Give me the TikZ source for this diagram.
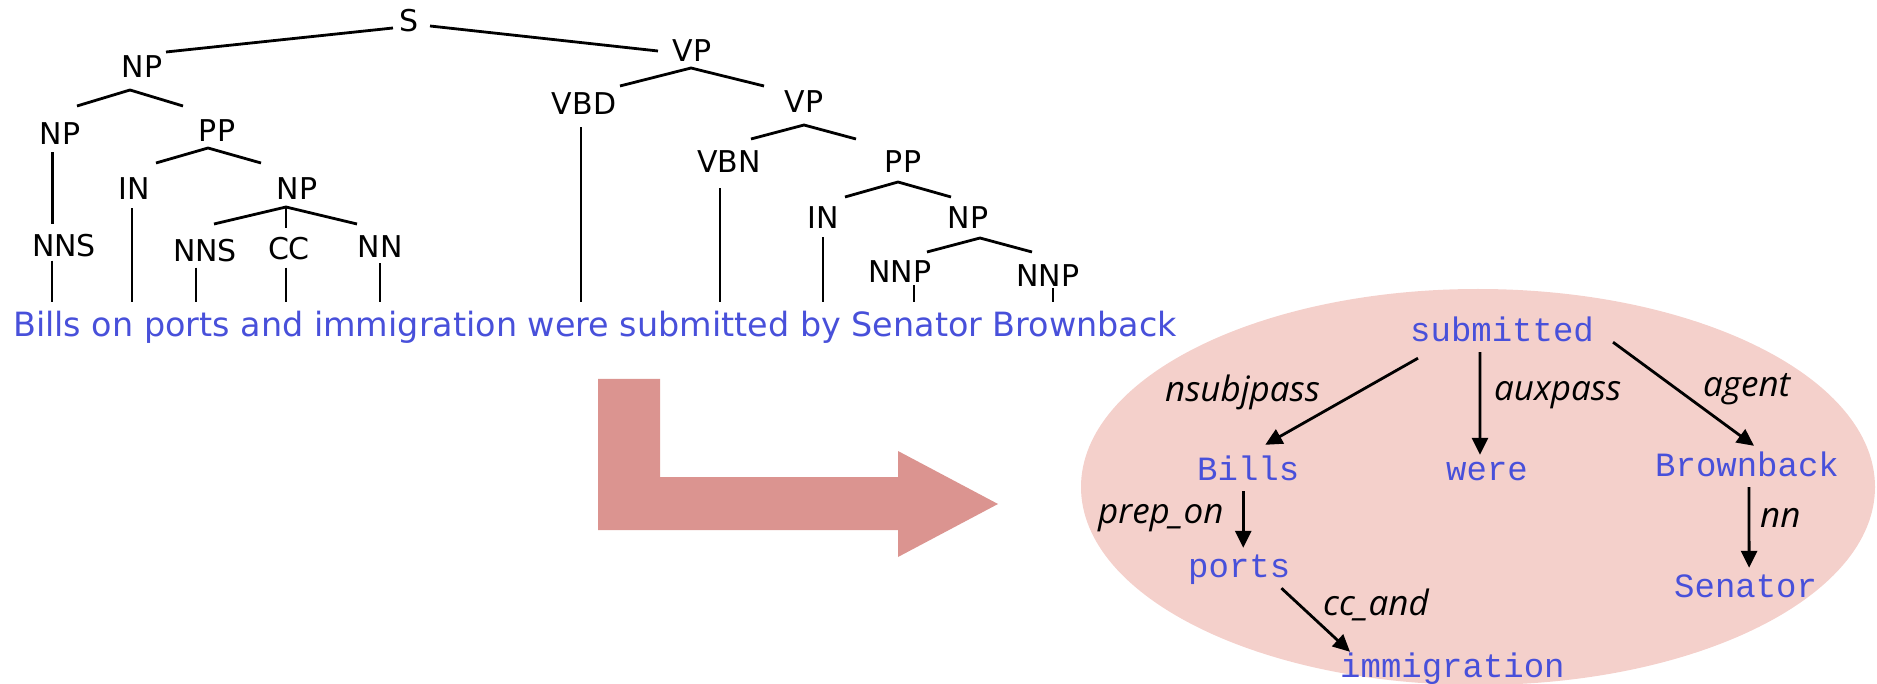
\documentclass[tikz,border=0pt]{standalone}
\usepackage{fontspec}
\setmainfont{DejaVu Sans}
\newfontfamily\treefont{DejaVu Sans}
\newfontfamily\wordfont{DejaVu Sans}
\newfontfamily\depfont{Liberation Mono}
\newfontfamily\relfont{Open Sans}
\usetikzlibrary{arrows.meta}
\definecolor{wordblue}{RGB}{72,80,218}
\definecolor{depbg}{RGB}{244,208,203}
\definecolor{bigarrow}{RGB}{219,148,144}

% vertical stem from a preterminal down to the sentence:
% #1 category node, #2 horizontal offset of the stem, #3 gap below the label
\newcommand{\leafstem}[3]{%
  \draw[branch] ([xshift=#2,yshift=-#3]#1.south) -- ([xshift=#2]#1.south |- stemend);}

\begin{document}
\begin{tikzpicture}[x=1pt,y=-1pt,
  cat/.style={inner sep=0pt, anchor=base, font=\treefont\fontsize{30}{36}\selectfont},
  branch/.style={line width=2.8pt},
  dep/.style={inner sep=0pt, anchor=base west, text=wordblue, text height=24pt,
    text depth=8pt, font=\depfont\fontsize{34}{40}\selectfont},
  rel/.style={inner sep=0pt, anchor=base west, font=\relfont\itshape\fontsize{35}{40}\selectfont},
  deparrow/.style={line width=2.8pt, -{Triangle[length=17pt,width=16pt]}},
]
\useasboundingbox (0,0) rectangle (1877,684);

% ---------- backgrounds ----------
\fill[depbg] (1478,487) ellipse [x radius=397pt, y radius=198pt];
\fill[bigarrow] (598,379) -- (660,379) -- (660,477) -- (898,477) -- (898,451)
  -- (998,504) -- (898,557) -- (898,530) -- (598,530) -- cycle;

% ---------- phrase structure tree ----------
\node[cat] (S)    at (409,32)  {S};
\node[cat] (NPa)  at (142,78)  {NP};
\node[cat] (VPa)  at (692,62)  {VP};
\node[cat] (NPb)  at (60,145)  {NP};
\node[cat] (PPa)  at (217,142) {PP};
\node[cat] (VBD)  at (584,115) {VBD};
\node[cat] (VPb)  at (804,113) {VP};
\node[cat] (INa)  at (134,200) {IN};
\node[cat] (NPc)  at (297,200) {NP};
\node[cat] (VBN)  at (729,173) {VBN};
\node[cat] (PPb)  at (903,173) {PP};
\node[cat] (NNSa) at (64,257)  {NNS};
\node[cat] (NNSb) at (205,262) {NNS};
\node[cat] (CC)   at (289,260) {CC};
\node[cat] (NN)   at (380,258) {NN};
\node[cat] (INb)  at (823,229) {IN};
\node[cat] (NPd)  at (968,229) {NP};
\node[cat] (NNPa) at (900,283) {NNP};
\node[cat] (NNPb) at (1048,287) {NNP};

\node[inner sep=0pt, anchor=base west, text=wordblue,
      font=\wordfont\fontsize{33.4}{40}\selectfont] (sent) at (13,337)
      {Bills on ports and immigration were submitted by Senator Brownback};
\coordinate (stemend) at ([yshift=9pt]sent.north);

% branch points below each parent and arm ends above each child
\coordinate (S-l) at (393,28);   \coordinate (S-r) at (430,26);
\coordinate (NPa-t) at (166,52); \coordinate (VPa-t) at (658,51);
\coordinate (NPa-j) at (130,90); \coordinate (NPb-t) at (77,106);  \coordinate (PPa-t) at (183,106);
\coordinate (PPa-j) at (208,148); \coordinate (INa-t) at (156,163); \coordinate (NPc-t) at (261,163);
\coordinate (NPc-j) at (286,207); \coordinate (NNSb-t) at (214,224); \coordinate (CC-t) at (286,228);
\coordinate (NN-t) at (357,224);
\coordinate (VPa-j) at (691,68); \coordinate (VBD-t) at (620,86); \coordinate (VPb-t) at (764,86);
\coordinate (VPb-j) at (804,125); \coordinate (VBN-t) at (751,139); \coordinate (PPb-t) at (856,139);
\coordinate (PPb-j) at (898,182); \coordinate (INb-t) at (845,197); \coordinate (NPd-t) at (951,197);
\coordinate (NPd-j) at (980,238); \coordinate (NNPa-t) at (927,252); \coordinate (NNPb-t) at (1032,252);

\draw[branch] (S-l) -- (NPa-t);
\draw[branch] (S-r) -- (VPa-t);
\draw[branch] (NPb-t) -- (NPa-j) -- (PPa-t);
\draw[branch] (INa-t) -- (PPa-j) -- (NPc-t);
\draw[branch] (NNSb-t) -- (NPc-j) -- (NN-t);
\draw[branch] (NPc-j) -- (CC-t);
\draw[branch] (VBD-t) -- (VPa-j) -- (VPb-t);
\draw[branch] (VBN-t) -- (VPb-j) -- (PPb-t);
\draw[branch] (INb-t) -- (PPb-j) -- (NPd-t);
\draw[branch] (NNPa-t) -- (NPd-j) -- (NNPb-t);
\draw[branch] ([xshift=-7.5pt,yshift=-7pt]NPb.south) -- ([xshift=-7.5pt,yshift=11pt]NNSa.north -| NPb.south);

\leafstem{NNSa}{-12pt}{3pt}
\leafstem{INa}{-2pt}{8pt}
\leafstem{NNSb}{-9pt}{5pt}
\leafstem{CC}{-3pt}{7pt}
\leafstem{NN}{0pt}{5pt}
\leafstem{VBD}{-3pt}{12pt}
\leafstem{VBN}{-9pt}{15pt}
\leafstem{INb}{0pt}{8pt}
\leafstem{NNPa}{14pt}{2pt}
\leafstem{NNPb}{5pt}{1pt}

% ---------- typed dependencies ----------
\node[dep] (dsub)   at (1410,342) {submitted};
\node[dep] (dbills) at (1197,480) {Bills};
\node[dep] (dwere)  at (1446,480) {were};
\node[dep] (dbrown) at (1655,476) {Brownback};
\node[dep] (dports) at (1188,577) {ports};
\node[dep] (dsen)   at (1674,597) {Senator};
\node[dep] (dimm)   at (1340,677) {immigration};

\draw[deparrow] ([xshift=8pt,yshift=-8pt]dsub.south west) -- ([xshift=17pt,yshift=11pt]dbills.north);
\draw[deparrow] ([xshift=-22pt,yshift=-2pt]dsub.south) -- ([xshift=-7pt,yshift=1pt]dwere.north);
\draw[deparrow] ([xshift=19pt,yshift=8pt]dsub.south east) -- ([xshift=7pt,yshift=6pt]dbrown.north);
\draw[deparrow] ([xshift=-5pt,yshift=-3pt]dbills.south) -- ([xshift=4pt,yshift=5pt]dports.north);
\draw[deparrow] ([xshift=-9pt,yshift=-3pt]dports.south east) -- ([xshift=10pt,yshift=1pt]dimm.north west);
\draw[deparrow] ([xshift=2pt,yshift=-3pt]dbrown.south) -- ([xshift=3.5pt,yshift=5pt]dsen.north);

\node[rel] (lnsubj) at (1165,402) {nsubjpass};
\node[rel] (laux)   at (1494,401) {auxpass};
\node[rel] (lagent) at (1703,397) {agent};
\node[rel] (lprep)  at (1098,523) {prep\_on};
\node[rel] (lnn)    at (1760,527) {nn};
\node[rel] (lcc)    at (1323,615) {cc\_and};
\end{tikzpicture}
\end{document}
